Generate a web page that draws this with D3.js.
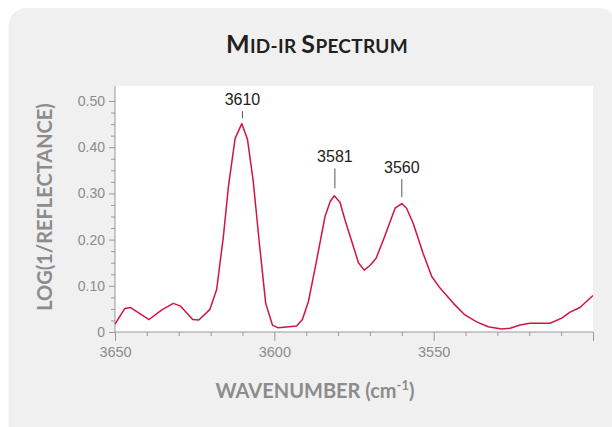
<!DOCTYPE html>
<html>
<head>
<meta charset="utf-8">
<script src="https://cdn.jsdelivr.net/npm/d3@7"></script>
<style>
  html, body { margin: 0; padding: 0; background: #ffffff; }
  svg { display: block; }
</style>
</head>
<body>
<script>
// ---- data ----
const wavenumbers = [3650, 3646.9, 3645.1, 3639.3, 3635.3, 3631.7, 3629.4, 3625.6, 3623.7, 3620.2,
  3618.1, 3616, 3614.4, 3612.3, 3610.2, 3608.4, 3606.6, 3604.7, 3602.7, 3600.6,
  3598.8, 3593, 3591.2, 3589.3, 3586.7, 3584.1, 3582.5, 3581.2, 3579.4, 3577.8,
  3575.2, 3573.6, 3571.8, 3570, 3568.1, 3565.8, 3562.1, 3560, 3558.5, 3556.4,
  3553.3, 3550.6, 3548, 3543.8, 3540.2, 3536.5, 3532.9, 3528.7, 3526, 3522.9,
  3519.8, 3513.5, 3509.8, 3507.2, 3504.1, 3500];
const reflectance = [0.017, 0.051, 0.053, 0.027, 0.048, 0.062, 0.056, 0.027, 0.026, 0.049,
  0.092, 0.206, 0.315, 0.419, 0.451, 0.416, 0.325, 0.192, 0.062, 0.015,
  0.009, 0.013, 0.027, 0.066, 0.156, 0.250, 0.282, 0.295, 0.281, 0.242,
  0.185, 0.150, 0.134, 0.144, 0.159, 0.199, 0.268, 0.278, 0.268, 0.235,
  0.170, 0.120, 0.095, 0.062, 0.037, 0.022, 0.0115, 0.0065, 0.008, 0.015,
  0.019, 0.019, 0.030, 0.043, 0.053, 0.079];
const yTickValues = [0, 0.1, 0.2, 0.3, 0.4, 0.5];
const yTickLabels = ["0", "0.10", "0.20", "0.30", "0.40", "0.50"];
const xTickValues = [3650, 3600, 3550, 3500];
const xTickLabels = ["3650", "3600", "3550", ""];
const peakLabels = ["3610", "3581", "3560"];
const peakWavenumbers = [3610, 3581, 3560];
const peakLineTop = [0.478, 0.354, 0.331];
const peakLineBottom = [0.463, 0.311, 0.292];

// ---- layout ----
const W = 612, H = 427;
const pLeft = 115, pRight = 593, pTop = 86, pBottom = 332;

const svg = d3.select("body").append("svg").attr("width", W).attr("height", H);

svg.append("rect").attr("x", 8.5).attr("y", 8).attr("width", 608).attr("height", 450)
  .attr("rx", 18).attr("fill", "#f0f0f0");

svg.append("rect").attr("x", pLeft).attr("y", pTop).attr("width", pRight - pLeft).attr("height", pBottom - pTop)
  .attr("fill", "#ffffff");

const x = d3.scaleLinear().domain([3650, 3500]).range([pLeft, pRight]);
const y = d3.scaleLinear().domain([0, 0.5]).range([pBottom, 101]);

const axisColor = "#999999";
const labelColor = "#8c8c8c";

// Y axis
const yMinor = d3.range(0, 0.5001, 0.025).filter(v => Math.abs(v * 10 - Math.round(v * 10)) > 1e-6);
const yMinorAxis = svg.append("g").attr("transform", `translate(${pLeft},0)`)
  .call(d3.axisLeft(y).tickValues(yMinor).tickSize(4).tickFormat(""));
const yAxis = svg.append("g").attr("transform", `translate(${pLeft},0)`)
  .call(d3.axisLeft(y).tickValues(yTickValues).tickSize(6).tickPadding(4)
    .tickFormat((d, i) => yTickLabels[i]));
[yMinorAxis, yAxis].forEach(g => {
  g.select(".domain").remove();
  g.selectAll("line").attr("stroke", axisColor);
});
yAxis.selectAll("text").attr("fill", labelColor).style("font-family", "'Liberation Sans', Arial, sans-serif")
  .style("font-size", "14px");
svg.append("line").attr("x1", pLeft).attr("x2", pLeft).attr("y1", pTop).attr("y2", pBottom)
  .attr("stroke", axisColor);

// X axis
const xMinor = d3.range(3500, 3650.1, 10).filter(v => v % 50 !== 0);
const xMinorAxis = svg.append("g").attr("transform", `translate(0,${pBottom})`)
  .call(d3.axisBottom(x).tickValues(xMinor).tickSize(4).tickFormat(""));
const xAxis = svg.append("g").attr("transform", `translate(0,${pBottom})`)
  .call(d3.axisBottom(x).tickValues(xTickValues).tickSize(9).tickPadding(6)
    .tickFormat((d, i) => xTickLabels[i]));
[xMinorAxis, xAxis].forEach(g => {
  g.select(".domain").remove();
  g.selectAll("line").attr("stroke", axisColor);
});
xAxis.selectAll("text").attr("fill", labelColor).style("font-family", "'Liberation Sans', Arial, sans-serif")
  .style("font-size", "14.5px");
svg.append("line").attr("x1", pLeft).attr("x2", pRight).attr("y1", pBottom).attr("y2", pBottom)
  .attr("stroke", axisColor);

// Spectrum line
const pts = wavenumbers.map((w, i) => [w, reflectance[i]]);
svg.append("path").datum(pts)
  .attr("fill", "none").attr("stroke", "#d3143f").attr("stroke-width", 1.5)
  .attr("stroke-linejoin", "round")
  .attr("d", d3.line().x(d => x(d[0])).y(d => y(d[1])));

// Peak annotations
peakLabels.forEach((lab, i) => {
  const px = x(peakWavenumbers[i]);
  svg.append("line").attr("x1", px).attr("x2", px)
    .attr("y1", y(peakLineTop[i])).attr("y2", y(peakLineBottom[i]))
    .attr("stroke", "#555555").attr("stroke-width", 1);
  svg.append("text").attr("x", px).attr("y", y(peakLineTop[i]) - 6)
    .attr("text-anchor", "middle").attr("fill", "#222222")
    .style("font-family", "'Liberation Sans', Arial, sans-serif").style("font-size", "16px")
    .text(lab);
});

// Title (small caps)
const title = svg.append("text").attr("x", 317).attr("y", 53).attr("text-anchor", "middle")
  .attr("fill", "#231f20").style("font-family", "Lato, 'Open Sans', sans-serif").style("font-weight", "bold")
  .style("letter-spacing", "0.3px");
[["M", 25], ["ID-IR ", 19], ["S", 25], ["PECTRUM", 19]].forEach(([t, s]) => {
  title.append("tspan").style("font-size", s + "px").text(t);
});

// X axis title
const xt = svg.append("text").attr("x", 315).attr("y", 398).attr("text-anchor", "middle")
  .attr("fill", "#8c8c8c").style("font-family", "Lato, 'Open Sans', sans-serif").style("font-weight", "bold")
  .style("font-size", "20px");
xt.append("tspan").text("WAVENUMBER (cm");
xt.append("tspan").attr("dy", -8).style("font-size", "13px").text("-1");
xt.append("tspan").attr("dy", 8).text(")");

// Y axis title
svg.append("text").attr("transform", "translate(52,207) rotate(-90)").attr("text-anchor", "middle")
  .attr("fill", "#8c8c8c").style("font-family", "Lato, 'Open Sans', sans-serif").style("font-weight", "bold")
  .style("font-size", "20px").text("LOG(1/REFLECTANCE)");
</script>
</body>
</html>
